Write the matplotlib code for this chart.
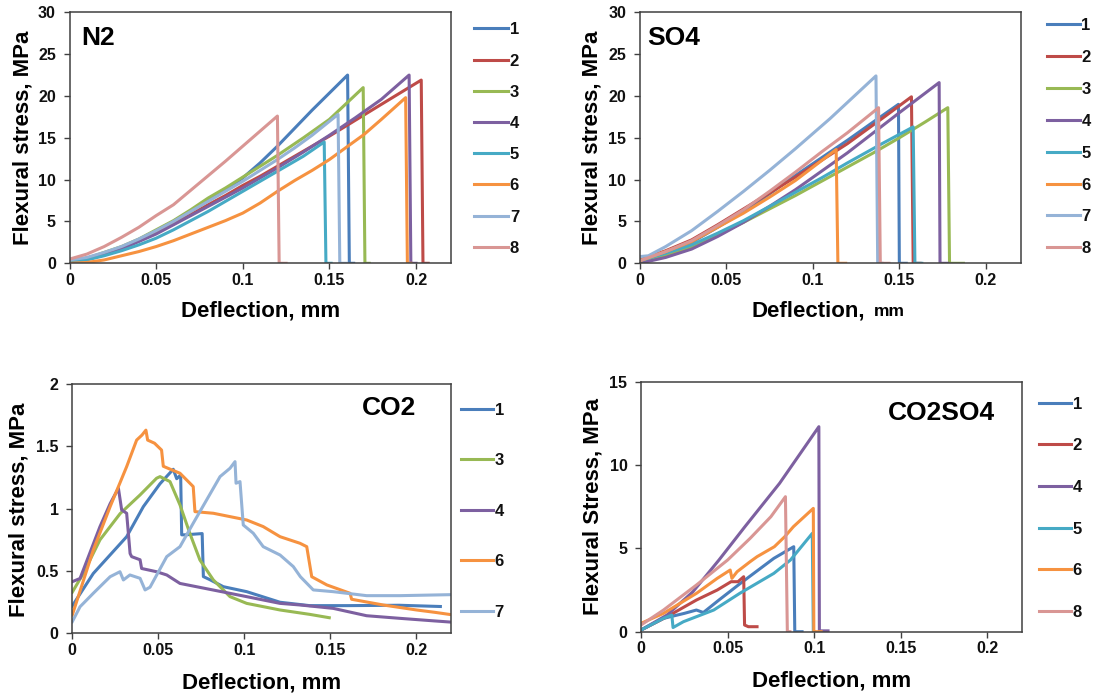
import matplotlib
matplotlib.use('Agg')
import matplotlib.pyplot as plt
from matplotlib.lines import Line2D

plt.rcParams['font.family'] = ['Liberation Sans', 'DejaVu Sans']

W, H = 1095, 696

# series colours (Excel-like palette)
COLORS = {'1': '#4A7EBB', '2': '#BE4B48', '3': '#98B954', '4': '#7D60A0',
          '5': '#46AAC5', '6': '#F69240', '7': '#95B3D7', '8': '#D99694'}

X_TICKS = [0, 0.05, 0.1, 0.15, 0.2]
X_TICK_LABELS = ['0', '0.05', '0.1', '0.15', '0.2']

# ---------------- N2 ----------------
n2_1 = ([0, 0.01, 0.02, 0.03, 0.04, 0.05, 0.06, 0.07, 0.08, 0.09, 0.1, 0.11, 0.12, 0.14, 0.1605, 0.1615, 0.164],
        [0.3, 0.6, 1.2, 1.9, 2.8, 3.8, 5.0, 6.2, 7.5, 8.8, 10.2, 12.0, 14.0, 18.3, 22.5, 0, 0])
n2_2 = ([0, 0.01, 0.02, 0.03, 0.04, 0.05, 0.06, 0.07, 0.08, 0.09, 0.1, 0.11, 0.12, 0.135, 0.15, 0.165, 0.18, 0.203, 0.204, 0.207],
        [0.3, 0.6, 1.2, 1.9, 2.7, 3.7, 4.7, 5.8, 7.0, 8.1, 9.3, 10.4, 11.6, 13.4, 15.2, 17.1, 19.0, 21.9, 0, 0])
n2_3 = ([0, 0.01, 0.02, 0.03, 0.04, 0.05, 0.06, 0.07, 0.08, 0.09, 0.1, 0.11, 0.12, 0.135, 0.15, 0.1695, 0.1705, 0.173],
        [0.3, 0.6, 1.3, 2.0, 2.9, 4.0, 5.1, 6.4, 7.8, 9.0, 10.3, 11.6, 12.9, 15.0, 17.2, 21.0, 0, 0])
n2_4 = ([0, 0.01, 0.02, 0.03, 0.04, 0.05, 0.06, 0.07, 0.08, 0.09, 0.1, 0.11, 0.12, 0.135, 0.15, 0.165, 0.18, 0.196, 0.197, 0.2],
        [0.2, 0.5, 1.0, 1.7, 2.6, 3.5, 4.6, 5.7, 6.8, 7.9, 9.0, 10.2, 11.4, 13.3, 15.3, 17.4, 19.6, 22.5, 0, 0])
n2_5 = ([0, 0.01, 0.02, 0.03, 0.04, 0.05, 0.06, 0.07, 0.08, 0.09, 0.1, 0.11, 0.12, 0.135, 0.147, 0.148, 0.151],
        [0.2, 0.4, 0.9, 1.5, 2.2, 3.0, 4.0, 5.1, 6.2, 7.4, 8.6, 9.8, 11.0, 12.8, 14.5, 0, 0])
n2_6 = ([0, 0.01, 0.02, 0.03, 0.04, 0.05, 0.06, 0.07, 0.08, 0.09, 0.1, 0.11, 0.12, 0.13, 0.14, 0.15, 0.16, 0.17, 0.18, 0.194, 0.195, 0.197],
        [0, 0.1, 0.4, 0.9, 1.4, 2.0, 2.7, 3.5, 4.3, 5.1, 6.0, 7.2, 8.6, 9.9, 11.1, 12.4, 13.9, 15.4, 17.2, 19.8, 0, 0])
n2_7 = ([0, 0.01, 0.02, 0.03, 0.04, 0.05, 0.06, 0.07, 0.08, 0.09, 0.1, 0.11, 0.12, 0.13, 0.14, 0.155, 0.156, 0.16],
        [0.4, 0.7, 1.3, 2.0, 2.9, 3.9, 5.0, 6.2, 7.4, 8.6, 9.8, 11.1, 12.4, 13.8, 15.3, 17.8, 0, 0])
n2_8 = ([0, 0.01, 0.02, 0.03, 0.04, 0.05, 0.06, 0.075, 0.09, 0.1, 0.11, 0.12, 0.121, 0.125],
        [0.5, 1.1, 2.0, 3.1, 4.3, 5.7, 7.0, 9.6, 12.2, 14.0, 15.8, 17.6, 0, 0])
N2_SERIES = {'1': n2_1, '2': n2_2, '3': n2_3, '4': n2_4,
             '5': n2_5, '6': n2_6, '7': n2_7, '8': n2_8}

# ---------------- SO4 ----------------
so4_1 = ([0, 0.015, 0.03, 0.045, 0.06, 0.075, 0.09, 0.105, 0.12, 0.135, 0.1495, 0.15, 0.154],
         [0.2, 1.2, 2.5, 4.3, 6.2, 8.3, 10.5, 12.6, 14.7, 16.9, 19.0, 0, 0])
so4_2 = ([0, 0.015, 0.03, 0.045, 0.06, 0.075, 0.09, 0.105, 0.12, 0.14, 0.157, 0.158, 0.162],
         [0.4, 1.5, 2.8, 4.6, 6.5, 8.4, 10.3, 12.3, 14.3, 17.3, 19.9, 0, 0])
so4_3 = ([0, 0.015, 0.03, 0.045, 0.06, 0.075, 0.09, 0.105, 0.12, 0.135, 0.15, 0.165, 0.178, 0.179, 0.187],
         [0.1, 0.9, 2.0, 3.4, 4.9, 6.5, 8.1, 9.8, 11.5, 13.2, 15.0, 16.9, 18.6, 0, 0])
so4_4 = ([0, 0.015, 0.03, 0.045, 0.06, 0.075, 0.09, 0.105, 0.12, 0.135, 0.15, 0.173, 0.1735, 0.178],
         [0, 0.7, 1.7, 3.2, 4.9, 6.8, 8.8, 11.0, 13.2, 15.6, 18.0, 21.6, 0, 0])
so4_5 = ([0, 0.015, 0.03, 0.045, 0.06, 0.075, 0.09, 0.105, 0.12, 0.14, 0.158, 0.159, 0.163],
         [0.3, 1.2, 2.2, 3.6, 5.1, 6.8, 8.5, 10.2, 12.0, 14.3, 16.3, 0, 0])
so4_6 = ([0, 0.015, 0.03, 0.045, 0.06, 0.075, 0.09, 0.1135, 0.1145, 0.119],
         [0.3, 1.4, 2.6, 4.3, 6.0, 7.9, 9.9, 13.6, 0, 0])
so4_7 = ([0, 0.005, 0.015, 0.03, 0.045, 0.06, 0.075, 0.09, 0.11, 0.1365, 0.1375, 0.14],
         [0.8, 0.9, 2.0, 3.9, 6.2, 8.6, 11.1, 13.7, 17.3, 22.4, 0, 0])
so4_8 = ([0, 0.015, 0.03, 0.045, 0.06, 0.075, 0.09, 0.105, 0.12, 0.138, 0.139, 0.144],
         [0.3, 1.4, 2.7, 4.5, 6.4, 8.6, 10.9, 13.3, 15.6, 18.6, 0, 0])
SO4_SERIES = {'1': so4_1, '2': so4_2, '3': so4_3, '4': so4_4,
              '5': so4_5, '6': so4_6, '7': so4_7, '8': so4_8}

# ---------------- CO2 ----------------
co2_1 = ([0, 0.0122, 0.0316, 0.0413, 0.051, 0.0587, 0.0607, 0.0630, 0.0636,
          0.0655, 0.0755, 0.0762, 0.080, 0.0878, 0.1014, 0.1208, 0.138, 0.16, 0.19, 0.214],
         [0.22, 0.48, 0.775, 1.016, 1.2, 1.316, 1.24, 1.27, 0.79,
          0.79, 0.80, 0.455, 0.43, 0.374, 0.334, 0.249, 0.222, 0.222, 0.225, 0.215])
co2_3 = ([0, 0.0064, 0.0161, 0.0278, 0.0394, 0.049, 0.051, 0.0568, 0.0626, 0.0684,
          0.0742, 0.082, 0.0917, 0.1014, 0.1208, 0.138, 0.1494],
         [0.33, 0.48, 0.75, 0.96, 1.11, 1.244, 1.257, 1.217, 1.03, 0.80,
          0.588, 0.428, 0.294, 0.24, 0.187, 0.152, 0.125])
co2_4 = ([0, 0.0045, 0.0161, 0.022, 0.0268, 0.0287, 0.0316, 0.0336, 0.0345, 0.0394,
          0.0403, 0.049, 0.0549, 0.0626, 0.082, 0.1014, 0.1208, 0.1326, 0.1517,
          0.1711, 0.1905, 0.2109, 0.22],
         [0.414, 0.44, 0.856, 1.04, 1.164, 0.99, 0.963, 0.64, 0.615, 0.59,
          0.52, 0.494, 0.468, 0.40, 0.347, 0.294, 0.24, 0.227, 0.2,
          0.141, 0.12, 0.099, 0.09])
co2_6 = ([0, 0.0122, 0.022, 0.0316, 0.0374, 0.0405, 0.0428, 0.0438, 0.0478, 0.0519,
          0.0529, 0.058, 0.0626, 0.0703, 0.0713, 0.082, 0.1014, 0.111, 0.1208,
          0.1324, 0.1363, 0.1392, 0.148, 0.1615, 0.1624, 0.1808, 0.2002, 0.2109, 0.22],
         [0.147, 0.668, 1.016, 1.337, 1.55, 1.59, 1.63, 1.55, 1.525, 1.47,
          1.34, 1.31, 1.284, 1.177, 0.976, 0.963, 0.909, 0.856, 0.775,
          0.722, 0.695, 0.454, 0.388, 0.321, 0.273, 0.227, 0.187, 0.168, 0.15])
co2_7 = ([0, 0.0045, 0.0122, 0.018, 0.022, 0.0277, 0.0297, 0.0335, 0.0394, 0.0423,
          0.0452, 0.0549, 0.0626, 0.0703, 0.0781, 0.0859, 0.0917, 0.0946, 0.0952,
          0.0975, 0.0994, 0.1052, 0.111, 0.1208, 0.1285, 0.1326, 0.1401, 0.1517,
          0.1711, 0.1905, 0.22],
         [0.093, 0.213, 0.321, 0.40, 0.454, 0.494, 0.428, 0.468, 0.441, 0.348,
          0.37, 0.615, 0.695, 0.883, 1.07, 1.257, 1.324, 1.377, 1.204,
          1.217, 0.869, 0.803, 0.695, 0.628, 0.535, 0.454, 0.348, 0.334,
          0.302, 0.302, 0.31])
CO2_SERIES = {'1': co2_1, '3': co2_3, '4': co2_4, '6': co2_6, '7': co2_7}

# ---------------- CO2SO4 ----------------
cs_1 = ([0, 0.013, 0.025, 0.032, 0.036, 0.045, 0.0574, 0.0767, 0.0882, 0.0888, 0.093],
        [0.1, 0.8, 1.1, 1.3, 1.15, 1.9, 2.9, 4.4, 5.1, 0, 0])
cs_2 = ([0, 0.015, 0.032, 0.044, 0.052, 0.056, 0.0593, 0.0598, 0.062, 0.067],
        [0.1, 0.9, 1.9, 2.5, 3.0, 3.0, 3.3, 0.4, 0.3, 0.3])
cs_4 = ([0, 0.015, 0.03, 0.045, 0.06, 0.08, 0.1027, 0.103, 0.108],
        [0.1, 1.0, 2.4, 4.3, 6.3, 8.9, 12.3, 0.05, 0.05])
cs_5 = ([0, 0.013, 0.0178, 0.0185, 0.0245, 0.042, 0.057, 0.0767, 0.0863, 0.0989, 0.0995, 0.1],
        [0.1, 0.8, 1.0, 0.25, 0.6, 1.3, 2.3, 3.5, 4.3, 5.9, 0, 0])
cs_6 = ([0, 0.013, 0.032, 0.044, 0.0515, 0.0525, 0.0555, 0.063, 0.067, 0.077,
         0.083, 0.088, 0.0995, 0.0998, 0.104],
        [0.5, 1.1, 2.3, 3.2, 3.7, 3.2, 3.6, 4.2, 4.5, 5.1,
         5.7, 6.3, 7.4, 0, 0])
cs_8 = ([0, 0.013, 0.032, 0.05, 0.063, 0.075, 0.0834, 0.0845, 0.086],
        [0.4, 1.3, 2.8, 4.3, 5.6, 6.9, 8.1, 0, 0])
CS_SERIES = {'1': cs_1, '2': cs_2, '4': cs_4, '5': cs_5, '6': cs_6, '8': cs_8}

fig = plt.figure(figsize=(W / 100, H / 100), dpi=100)
fig.patch.set_facecolor('white')

AX_COL = '#404040'
TXT_COL = '#111111'


def px_axes(l, r, t, b):
    return fig.add_axes([l / W, 1 - b / H, (r - l) / W, (b - t) / H])


def style(ax, ymax, ystep, ylabels):
    ax.set_xlim(0, 0.22)
    ax.set_ylim(0, ymax)
    ax.set_xticks(X_TICKS)
    ax.set_xticklabels(X_TICK_LABELS)
    yt = [i * ystep for i in range(len(ylabels))]
    ax.set_yticks(yt)
    ax.set_yticklabels(ylabels)
    for s in ax.spines.values():
        s.set_color(AX_COL)
        s.set_linewidth(1.1)
    ax.tick_params(axis='both', direction='out', length=4.3, width=1.0,
                   color=AX_COL, labelsize=11.5, labelcolor=TXT_COL)
    ax.tick_params(axis='y', pad=5.5)
    ax.tick_params(axis='x', pad=2.5)
    for lab in ax.get_xticklabels() + ax.get_yticklabels():
        lab.set_fontweight('bold')


def draw(ax, series):
    for key, (xs, ys) in series.items():
        ax.plot(xs, ys, color=COLORS[key], lw=2.2, solid_joinstyle='round',
                clip_on=True)


def legend(keys, x0, x1, y_first, y_last):
    n = len(keys)
    step = (y_last - y_first) / (n - 1)
    for i, k in enumerate(keys):
        y = y_first + i * step
        fig.add_artist(Line2D([x0 / W, x1 / W], [1 - y / H, 1 - y / H],
                              transform=fig.transFigure, color=COLORS[k], lw=2.2))
        fig.text((x1 + 1.5) / W, 1 - (y + 6) / H, k, ha='left', va='baseline',
                 fontsize=12, fontweight='bold', color=TXT_COL)


def ylabel(text, xc, yc):
    fig.text(xc / W, 1 - yc / H, text, rotation=90, ha='center', va='center',
             fontsize=16, fontweight='bold', color='black')


def xlabel(xc, yb):
    fig.text(xc / W, 1 - yb / H, 'Deflection, mm', ha='center', va='baseline',
             fontsize=16, fontweight='bold', color='black')


Y30 = ['0', '5', '10', '15', '20', '25', '30']

# Panel N2
ax1 = px_axes(69.5, 450.7, 12.3, 263.3)
draw(ax1, N2_SERIES)
style(ax1, 30, 5, Y30)
fig.text(81 / W, 1 - 45 / H, 'N2', ha='left', va='baseline', fontsize=19,
         fontweight='bold', color='black')
ylabel('Flexural stress, MPa', 22.8, 138.3)
xlabel(260.5, 316)
legend(list(N2_SERIES.keys()), 474.3, 508.3, 28.3, 246.7)

# Panel SO4
ax2 = px_axes(639.7, 1020.5, 12.3, 263.3)
draw(ax2, SO4_SERIES)
style(ax2, 30, 5, Y30)
fig.text(647 / W, 1 - 45 / H, 'SO4', ha='left', va='baseline', fontsize=19,
         fontweight='bold', color='black')
ylabel('Flexural stress, MPa', 591.7, 138.3)
fig.text(865 / W, 1 - 316 / H, 'Deflection,', ha='right', va='baseline',
         fontsize=16, fontweight='bold', color='black')
fig.text(874 / W, 1 - 316 / H, 'mm', ha='left', va='baseline',
         fontsize=12.5, fontweight='bold', color='black')
legend(list(SO4_SERIES.keys()), 1047, 1080, 24.3, 247.3)

# Panel CO2
ax3 = px_axes(72.3, 450.7, 384, 633.3)
draw(ax3, CO2_SERIES)
style(ax3, 2, 0.5, ['0', '0.5', '1', '1.5', '2'])
fig.text(415.8 / W, 1 - 415 / H, 'CO2', ha='right', va='baseline', fontsize=19,
         fontweight='bold', color='black')
ylabel('Flexural stress, MPa', 19.3, 510)
xlabel(261.5, 688)
legend(list(CO2_SERIES.keys()), 461.4, 493, 409, 610.7)

# Panel CO2SO4
ax4 = px_axes(641, 1022, 381.7, 631.7)
draw(ax4, CS_SERIES)
style(ax4, 15, 5, ['0', '5', '10', '15'])
fig.text(995 / W, 1 - 420 / H, 'CO2SO4', ha='right', va='baseline', fontsize=19,
         fontweight='bold', color='black')
ylabel('Flexural Stress, MPa', 592.5, 506.7)
xlabel(831.5, 686)
legend(list(CS_SERIES.keys()), 1039.4, 1071, 402.7, 610.7)

fig.savefig('out.png', dpi=100, facecolor='white')
